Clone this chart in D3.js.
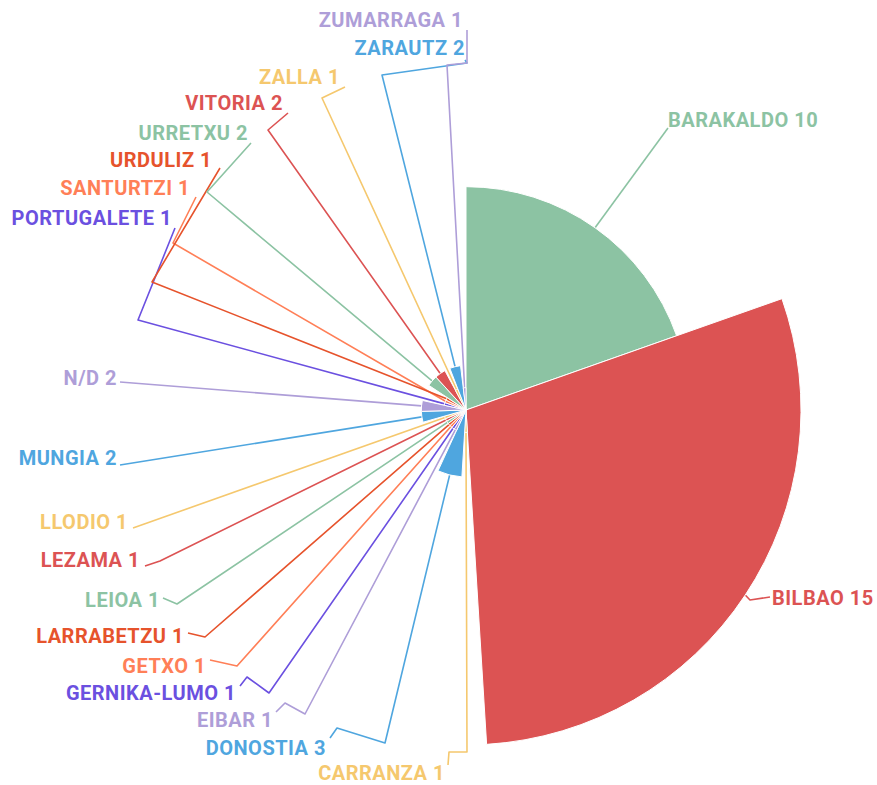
<!DOCTYPE html>
<html>
<head>
<meta charset="utf-8">
<script src="https://cdn.jsdelivr.net/npm/d3@7"></script>
<style>
  html, body { margin: 0; padding: 0; background: #fff; }
  svg { display: block; }
  text { font-family: Roboto, "Open Sans", sans-serif; font-weight: bold; }
</style>
</head>
<body>
<svg id="chart" width="877" height="785"></svg>
<script>
// ---- data ----
const categories = ["BARAKALDO", "BILBAO", "CARRANZA", "DONOSTIA", "EIBAR", "GERNIKA-LUMO", "GETXO",
  "LARRABETZU", "LEIOA", "LEZAMA", "LLODIO", "MUNGIA", "N/D", "PORTUGALETE", "SANTURTZI",
  "URDULIZ", "URRETXU", "VITORIA", "ZALLA", "ZARAUTZ", "ZUMARRAGA"];
const values = [10, 15, 1, 3, 1, 1, 1, 1, 1, 1, 1, 2, 2, 1, 1, 1, 2, 2, 1, 2, 1];
const palette = ["#8cc3a3", "#dc5353", "#f5c86e", "#4fa6df", "#ae9ed8", "#6b50e0", "#ff7f57", "#e6532c"];

// ---- label layout (text anchor and leader-line bend points) ----
const labelLayout = [
  { t: [668, 120], a: "start", p: [[668, 128]] },
  { t: [772, 598], a: "start", p: [[770, 597], [750, 600]] },
  { t: [445, 773], a: "end", p: [[448, 765], [449, 752], [467, 752]] },
  { t: [326, 748], a: "end", p: [[330, 738], [337, 728], [385, 743]] },
  { t: [273, 720], a: "end", p: [[276, 712], [285, 703], [305, 714]] },
  { t: [236, 693], a: "end", p: [[240, 686], [247, 677], [269, 693]] },
  { t: [206, 666], a: "end", p: [[210, 660], [237, 666]] },
  { t: [184, 636], a: "end", p: [[188, 633], [205, 637]] },
  { t: [160, 600], a: "end", p: [[163, 598], [177, 604]] },
  { t: [140, 560], a: "end", p: [[145, 566], [160, 561]] },
  { t: [128, 522], a: "end", p: [[133, 528]] },
  { t: [117, 458], a: "end", p: [[120, 465]] },
  { t: [117, 378], a: "end", p: [[120, 382]] },
  { t: [172, 218], a: "end", p: [[175, 228], [138, 320]] },
  { t: [190, 188], a: "end", p: [[196, 197], [173, 243]] },
  { t: [212, 160], a: "end", p: [[220, 168], [152, 282]] },
  { t: [248, 133], a: "end", p: [[251, 143], [207, 192]] },
  { t: [283, 103], a: "end", p: [[288, 113], [268, 130]] },
  { t: [340, 77], a: "end", p: [[345, 87], [322, 98]] },
  { t: [465, 48], a: "end", p: [[465, 60], [467, 63], [382, 75]] },
  { t: [463, 20], a: "end", p: [[467, 30], [467, 63], [447, 65]] }
];

const cx = 466, cy = 410, maxR = 335;
const svg = d3.select("#chart");
const g = svg.append("g").attr("transform", `translate(${cx},${cy})`);

const data = categories.map((c, i) => ({ name: c, value: values[i], i }));
const pie = d3.pie().sort(null).value(d => d.value).startAngle(0).endAngle(2 * Math.PI);
const rScale = d3.scaleLinear().domain([0, d3.max(values)]).range([0, maxR]);
const color = i => palette[i % palette.length];

const arcs = pie(data);
const arcGen = d3.arc().innerRadius(0).outerRadius(d => rScale(d.data.value));

// leader lines (under slices)
const lineGen = d3.line();
arcs.forEach((d, k) => {
  const L = labelLayout[k];
  const mid = (d.startAngle + d.endAngle) / 2;
  const r = rScale(d.data.value);
  const edge = [r * Math.sin(mid), -r * Math.cos(mid)];
  const pts = L.p.map(p => [p[0] - cx, p[1] - cy]).concat([edge]);
  g.append("path")
    .attr("d", lineGen(pts))
    .attr("fill", "none")
    .attr("stroke", color(k))
    .attr("stroke-width", 1.6)
    .attr("stroke-linejoin", "round");
});

g.selectAll("path.slice")
  .data(arcs)
  .enter().append("path")
  .attr("class", "slice")
  .attr("d", arcGen)
  .attr("fill", (d, k) => color(k))
  .attr("stroke", "#fff")
  .attr("stroke-width", 1);

// labels
svg.selectAll("text.lbl")
  .data(arcs)
  .enter().append("text")
  .attr("class", "lbl")
  .attr("x", (d, k) => labelLayout[k].t[0])
  .attr("y", (d, k) => labelLayout[k].t[1])
  .attr("dy", "0.36em")
  .attr("text-anchor", (d, k) => labelLayout[k].a)
  .attr("font-size", 20)
  .attr("letter-spacing", "0.5px")
  .attr("fill", (d, k) => color(k))
  .text(d => d.data.name + " " + d.data.value);
</script>
</body>
</html>
